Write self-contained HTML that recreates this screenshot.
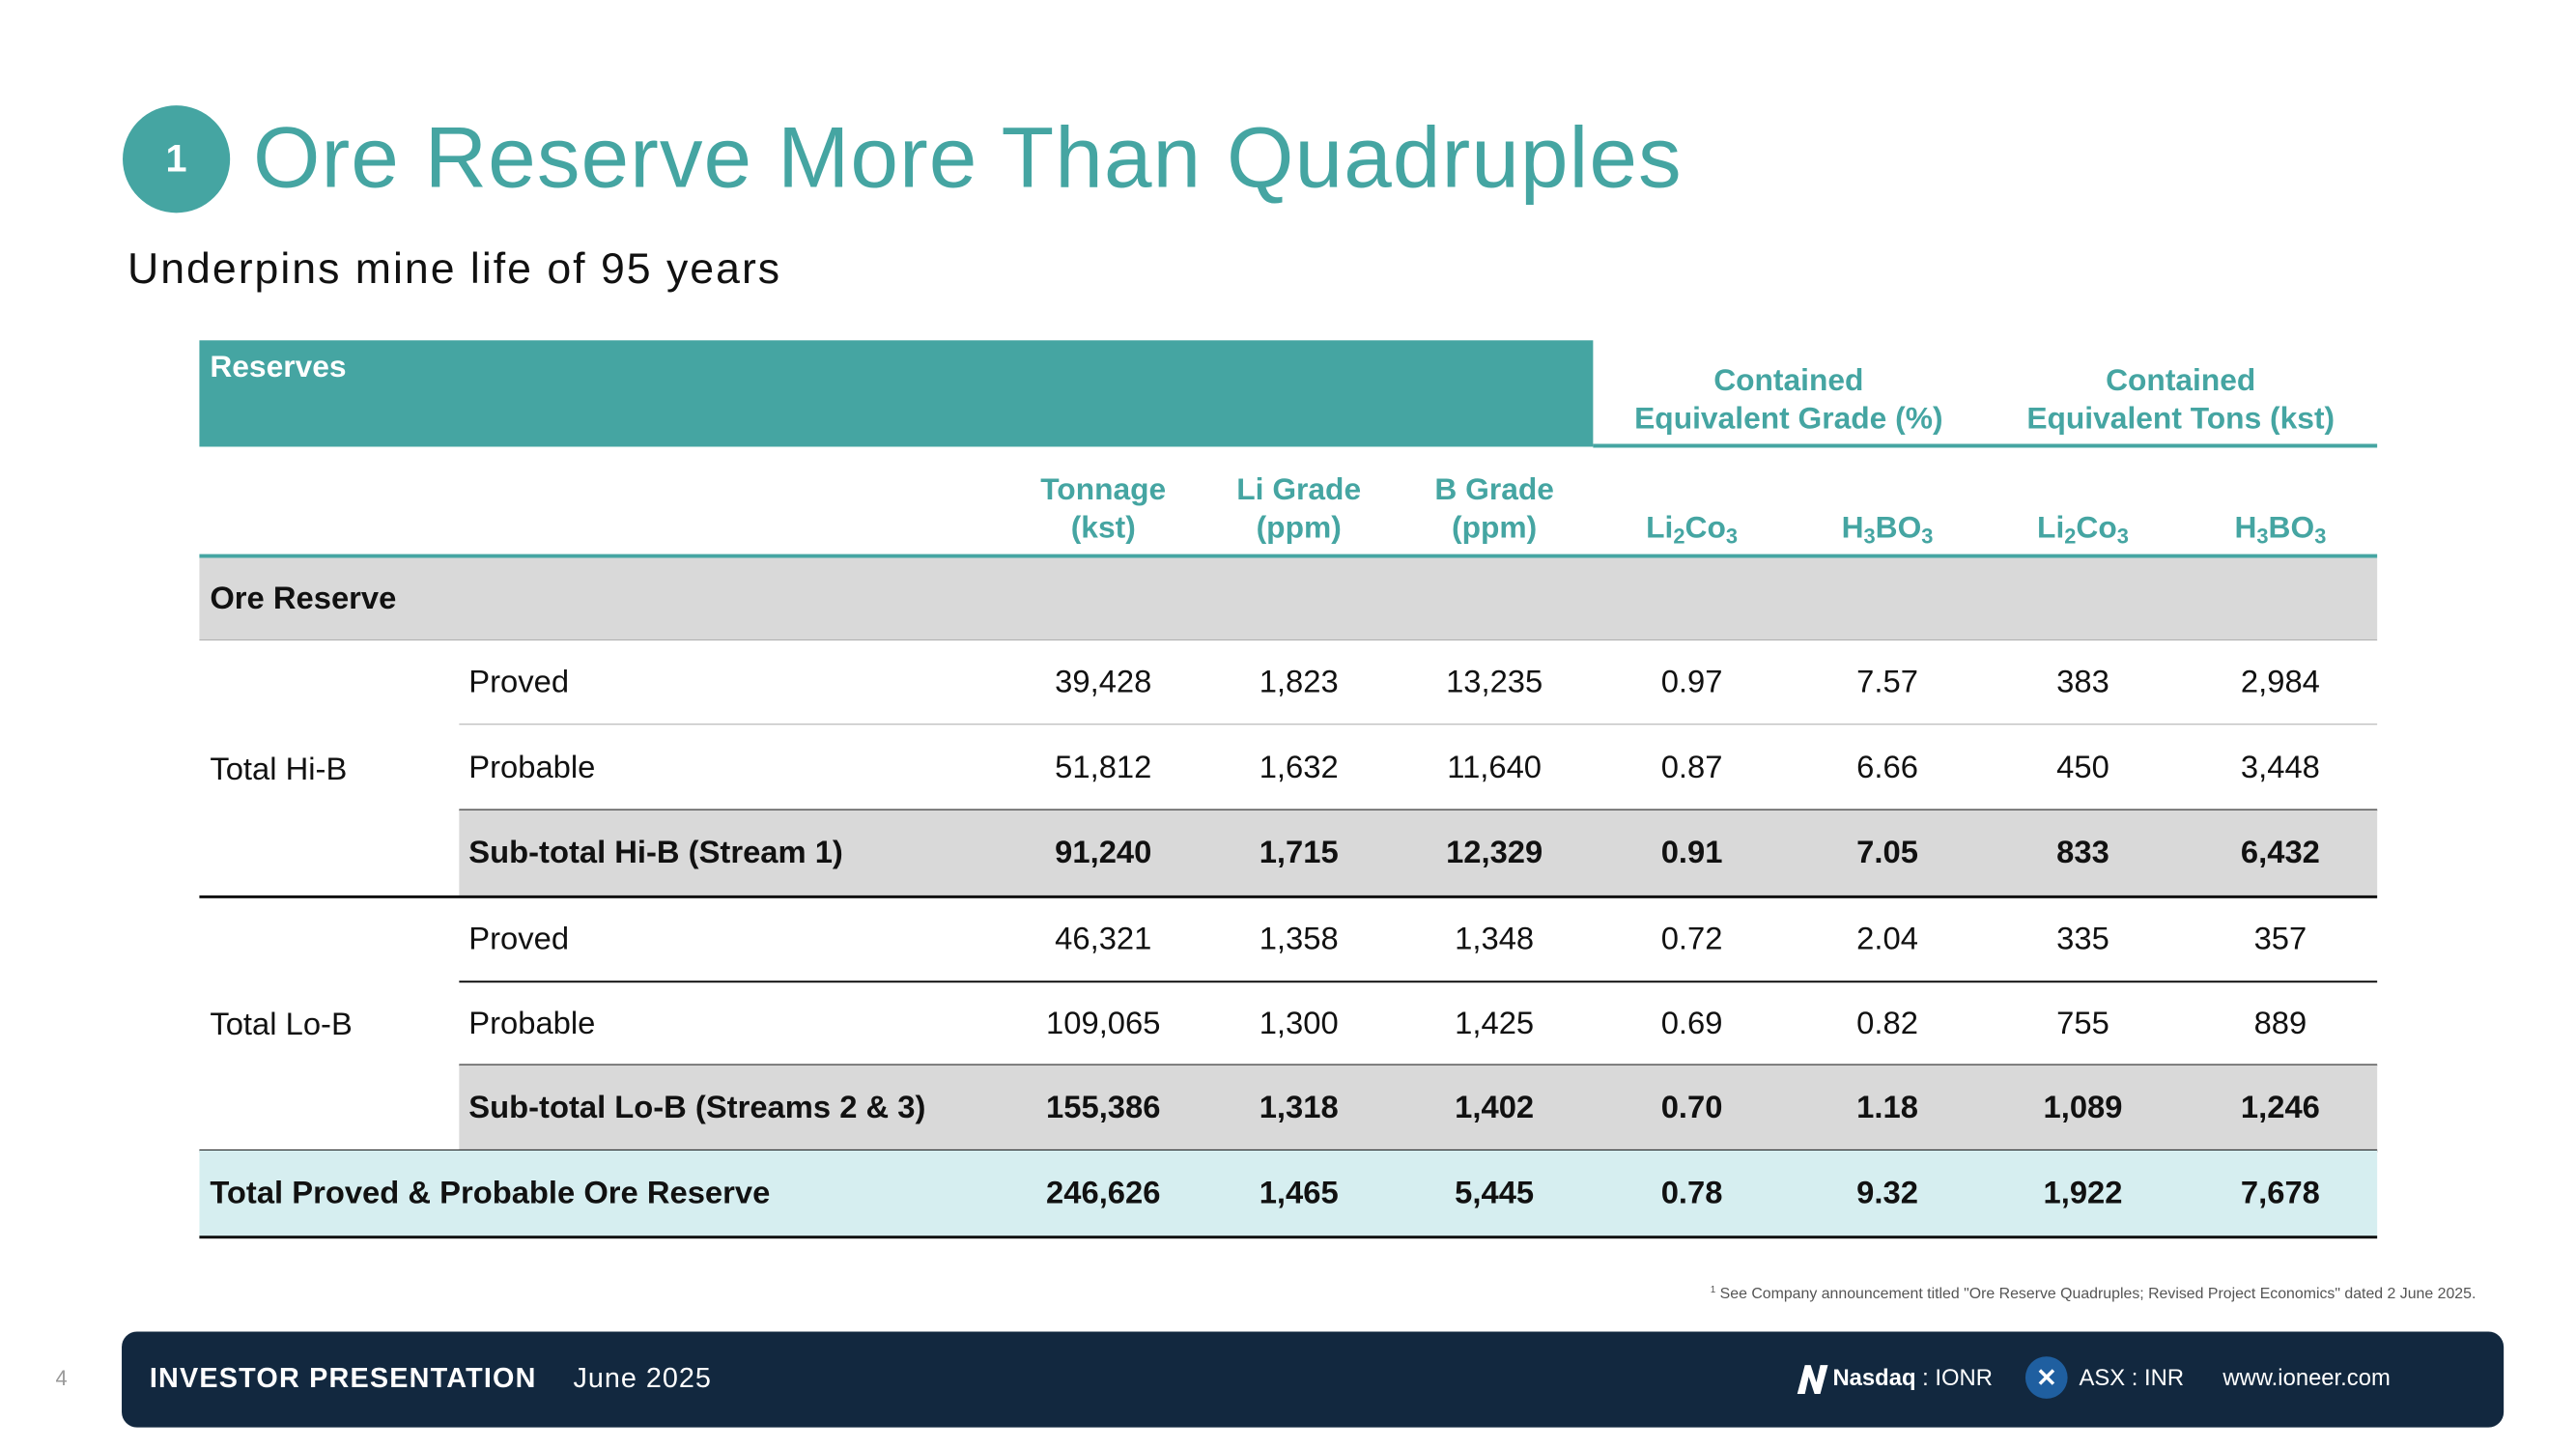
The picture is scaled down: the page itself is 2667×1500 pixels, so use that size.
<!DOCTYPE html>
<html><head><meta charset="utf-8">
<style>
body{margin:0;width:2667px;height:1500px;background:#fff;position:relative;overflow:hidden;font-family:"Liberation Sans",sans-serif;}
#wrap{position:absolute;left:0;top:0;width:2667px;height:1500px;transform:scale(0.9924);transform-origin:0 0;}
.a{position:absolute;}
.c{text-align:center;}
.teal{color:#45a5a2;}
.hd{font-weight:bold;color:#45a5a2;font-size:32px;line-height:40px;}
.cell{position:absolute;font-size:33px;color:#111;transform:translateX(-50%);white-space:nowrap;}
.lbl{position:absolute;font-size:33px;color:#111;white-space:nowrap;}
.b{font-weight:bold;}
sub{font-size:22px;vertical-align:-6px;}
</style></head><body>
<div id="wrap">
<div class="a" style="left:128px;top:110px;width:112px;height:112px;border-radius:50%;background:#45a5a2;color:#fff;font-size:40px;font-weight:bold;text-align:center;line-height:112px;">1</div>
<div class="a teal" style="left:264px;top:110px;font-size:90px;line-height:110px;letter-spacing:1px;">Ore Reserve More Than Quadruples</div>
<div class="a" style="left:133px;top:252px;font-size:45px;line-height:56px;color:#111;letter-spacing:2px;">Underpins mine life of 95 years</div>

<div class="a" style="left:208px;top:355px;width:1454px;height:111px;background:#45a5a2;"></div>
<div class="a" style="left:219px;top:364px;color:#fff;font-weight:bold;font-size:32px;">Reserves</div>
<div class="a hd c" style="left:1662px;top:376px;width:408px;">Contained<br>Equivalent Grade (%)</div>
<div class="a hd c" style="left:2070px;top:376px;width:410px;">Contained<br>Equivalent Tons (kst)</div>
<div class="a" style="left:1662px;top:463px;width:818px;height:4px;background:#45a5a2;"></div>

<div class="a hd c" style="left:1051px;top:490px;width:200px;">Tonnage<br>(kst)</div>
<div class="a hd c" style="left:1255px;top:490px;width:200px;">Li Grade<br>(ppm)</div>
<div class="a hd c" style="left:1459px;top:490px;width:200px;">B Grade<br>(ppm)</div>
<div class="a hd c" style="left:1665px;top:530px;width:200px;">Li<sub>2</sub>Co<sub>3</sub></div>
<div class="a hd c" style="left:1869px;top:530px;width:200px;">H<sub>3</sub>BO<sub>3</sub></div>
<div class="a hd c" style="left:2073px;top:530px;width:200px;">Li<sub>2</sub>Co<sub>3</sub></div>
<div class="a hd c" style="left:2279px;top:530px;width:200px;">H<sub>3</sub>BO<sub>3</sub></div>
<div class="a" style="left:208px;top:578px;width:2272px;height:4px;background:#45a5a2;"></div>

<div class="a" style="left:208px;top:582px;width:2272px;height:85px;background:#d9d9d9;"></div>
<div class="lbl b" style="left:219px;top:605px;">Ore Reserve</div>
<div class="a" style="left:208px;top:667px;width:2272px;height:1px;background:#aaa;"></div>

<div id="rows"></div>

<div class="lbl" style="left:219px;top:783px;">Total Hi-B</div>
<div class="lbl" style="left:219px;top:1049px;">Total Lo-B</div>

<div class="a" style="right:84px;top:1340px;font-size:16px;color:#555;"><sup style="font-size:10px">1</sup> See Company announcement titled "Ore Reserve Quadruples; Revised Project Economics" dated 2 June 2025.</div>
<div class="a" style="left:58px;top:1425px;font-size:22px;color:#999;">4</div>
<div class="a" style="left:127px;top:1389px;width:2485px;height:100px;background:#12283f;border-radius:16px;"></div>
<div class="a" style="left:156px;top:1422px;font-size:29px;font-weight:bold;color:#fff;letter-spacing:1.2px;">INVESTOR PRESENTATION</div>
<div class="a" style="left:598px;top:1422px;font-size:29px;color:#fff;letter-spacing:1px;">June 2025</div>
<div class="a" style="left:1873px;top:1420px;width:36px;height:36px;"><svg width="36" height="36"><path d="M2 34 L10 4 L16 4 L22 22 L26 4 L34 4 L26 34 L20 34 L14 16 L10 34Z" fill="#fff"/></svg></div>
<div class="a" style="left:1912px;top:1424px;font-size:24px;color:#fff;"><b>Nasdaq</b> : IONR</div>
<div class="a" style="left:2113px;top:1415px;width:44px;height:44px;border-radius:50%;background:#1f5fa0;color:#fff;font-weight:bold;font-size:26px;text-align:center;line-height:44px;">✕</div>
<div class="a" style="left:2169px;top:1424px;font-size:24px;color:#fff;">ASX : INR</div>
<div class="a" style="left:2319px;top:1424px;font-size:24px;color:#fff;">www.ioneer.com</div>
</div>
<script>
const colX=[1151,1355,1559,1765,1969,2173,2379];
const rowLabels=["Proved","Probable","Sub-total Hi-B (Stream 1)","Proved","Probable","Sub-total Lo-B (Streams 2 & 3)","Total Proved & Probable Ore Reserve"];
const rowValues=[
["39,428","1,823","13,235","0.97","7.57","383","2,984"],
["51,812","1,632","11,640","0.87","6.66","450","3,448"],
["91,240","1,715","12,329","0.91","7.05","833","6,432"],
["46,321","1,358","1,348","0.72","2.04","335","357"],
["109,065","1,300","1,425","0.69","0.82","755","889"],
["155,386","1,318","1,402","0.70","1.18","1,089","1,246"],
["246,626","1,465","5,445","0.78","9.32","1,922","7,678"]];
const bounds=[667,756,845,935,1024,1111,1200,1290];
const kinds=["n","n","s","n","n","s","t"];
const lineStyle=[["#aaa",479,1],["#111",479,2],["#111",208,3],["#111",479,2],["#111",479,2],["#111",208,3],["#111",208,3]];
const host=document.getElementById('rows');
rowLabels.forEach((lab,i)=>{
  const top=bounds[i], h=bounds[i+1]-bounds[i], k=kinds[i];
  if(k!=="n"){
    const bg=document.createElement('div');
    bg.className='a';
    
    
    bg.style.cssText=`left:${k==='t'?208:479}px;top:${top}px;width:${k==='t'?2272:2001}px;height:${h}px;background:${k==='t'?'#d6eef0':'#d9d9d9'};`;
    host.appendChild(bg);
  }
  const l=document.createElement('div');
  l.className='lbl'+(k!=="n"?' b':'');
  
  
  l.style.left=(k==='t'?219:489)+'px';
  l.style.top=(top+h/2-20)+'px';
  l.textContent=lab;
  host.appendChild(l);
  rowValues[i].forEach((v,j)=>{
    const c=document.createElement('div');
    c.className='cell'+(k!=="n"?' b':'');
    
    
    c.style.left=colX[j]+'px';
    c.style.top=(top+h/2-20)+'px';
    c.textContent=v;
    host.appendChild(c);
  });
  const [col,x0,w]=lineStyle[i];
  const r=document.createElement('div');
  r.className='a';
  
  
  r.style.cssText=`left:${x0}px;top:${bounds[i+1]-1}px;width:${2480-x0}px;height:${w}px;background:${col};`;
  host.appendChild(r);
});
</script>
</body></html>
